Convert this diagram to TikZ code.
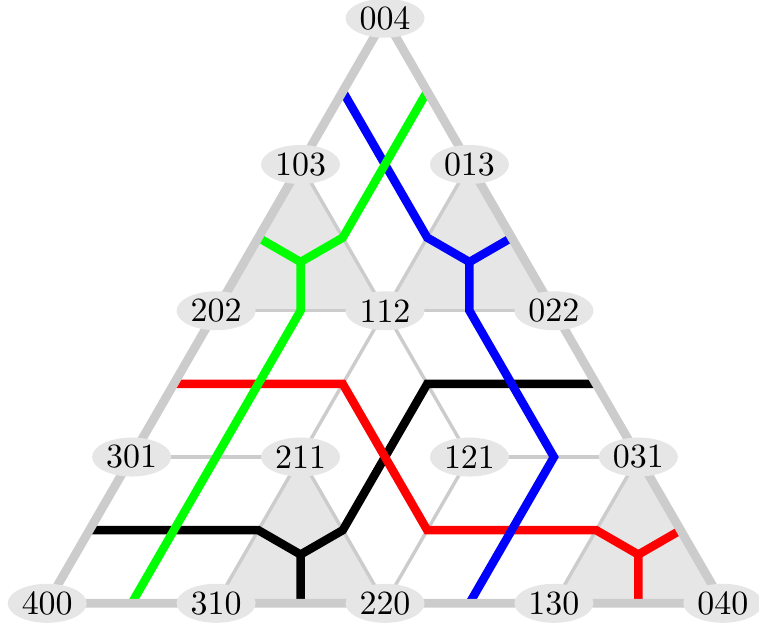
\documentclass[tikz,border=0pt]{standalone}
\usetikzlibrary{shapes.geometric}
\pgfdeclarelayer{bg}
\pgfsetlayers{bg,main}
\definecolor{gridgray}{HTML}{CCCCCC}
\definecolor{cellgray}{HTML}{E6E6E6}
\begin{document}
\begin{tikzpicture}[x=1.75cm,y=1.75cm,
  vtx/.style={ellipse, fill=cellgray, inner sep=0pt, minimum width=23.3pt, minimum height=11.5pt},
  outeredge/.style={draw=gridgray, line width=2.6pt},
  inneredge/.style={draw=gridgray, line width=1pt},
  cellfill/.style={fill=cellgray},
  trop/.style={line width=2.5pt, line join=miter}]
\useasboundingbox (-2.2795,-0.1344) rectangle (2.2143,3.5719);
% vertices
\node[vtx] (n004) at (0,3.4641) {004};
\node[vtx] (n103) at (-0.5,2.5981) {103};
\node[vtx] (n013) at (0.5,2.5981) {013};
\node[vtx] (n202) at (-1,1.7321) {202};
\node[vtx] (n112) at (0,1.7321) {112};
\node[vtx] (n022) at (1,1.7321) {022};
\node[vtx] (n301) at (-1.5,0.8660) {301};
\node[vtx] (n211) at (-0.5,0.8660) {211};
\node[vtx] (n121) at (0.5,0.8660) {121};
\node[vtx] (n031) at (1.5,0.8660) {031};
\node[vtx] (n400) at (-2,0) {400};
\node[vtx] (n310) at (-1,0) {310};
\node[vtx] (n220) at (0,0) {220};
\node[vtx] (n130) at (1,0) {130};
\node[vtx] (n040) at (2,0) {040};
% edge midpoints
\coordinate (m004x013) at (barycentric cs:n004=1,n013=1);
\coordinate (m103x112) at (barycentric cs:n103=1,n112=1);
\coordinate (m103x202) at (barycentric cs:n103=1,n202=1);
\coordinate (m202x112) at (barycentric cs:n202=1,n112=1);
\coordinate (m301x211) at (barycentric cs:n301=1,n211=1);
\coordinate (m400x310) at (barycentric cs:n400=1,n310=1);
\coordinate (m103x004) at (barycentric cs:n103=1,n004=1);
\coordinate (m013x112) at (barycentric cs:n013=1,n112=1);
\coordinate (m013x022) at (barycentric cs:n013=1,n022=1);
\coordinate (m112x022) at (barycentric cs:n112=1,n022=1);
\coordinate (m121x031) at (barycentric cs:n121=1,n031=1);
\coordinate (m220x130) at (barycentric cs:n220=1,n130=1);
\coordinate (m202x301) at (barycentric cs:n202=1,n301=1);
\coordinate (m112x211) at (barycentric cs:n112=1,n211=1);
\coordinate (m220x121) at (barycentric cs:n220=1,n121=1);
\coordinate (m031x130) at (barycentric cs:n031=1,n130=1);
\coordinate (m031x040) at (barycentric cs:n031=1,n040=1);
\coordinate (m130x040) at (barycentric cs:n130=1,n040=1);
\coordinate (m301x400) at (barycentric cs:n301=1,n400=1);
\coordinate (m211x310) at (barycentric cs:n211=1,n310=1);
\coordinate (m310x220) at (barycentric cs:n310=1,n220=1);
\coordinate (m211x220) at (barycentric cs:n211=1,n220=1);
\coordinate (m112x121) at (barycentric cs:n112=1,n121=1);
\coordinate (m022x031) at (barycentric cs:n022=1,n031=1);
% triangle centres
\coordinate (t1) at (barycentric cs:n103=1,n202=1,n112=1);
\coordinate (t2) at (barycentric cs:n013=1,n112=1,n022=1);
\coordinate (t3) at (barycentric cs:n211=1,n310=1,n220=1);
\coordinate (t4) at (barycentric cs:n031=1,n130=1,n040=1);
\begin{pgfonlayer}{bg}
  % shaded unit triangles
  \fill[cellfill] (n103.center) -- (n202.center) -- (n112.center) -- cycle;
  \fill[cellfill] (n013.center) -- (n112.center) -- (n022.center) -- cycle;
  \fill[cellfill] (n211.center) -- (n310.center) -- (n220.center) -- cycle;
  \fill[cellfill] (n031.center) -- (n130.center) -- (n040.center) -- cycle;
  % inner edges of the subdivision
  \draw[inneredge] (n013.center) -- (n112.center);
  \draw[inneredge] (n103.center) -- (n112.center);
  \draw[inneredge] (n202.center) -- (n112.center);
  \draw[inneredge] (n112.center) -- (n022.center);
  \draw[inneredge] (n112.center) -- (n211.center);
  \draw[inneredge] (n112.center) -- (n121.center);
  \draw[inneredge] (n301.center) -- (n211.center);
  \draw[inneredge] (n121.center) -- (n031.center);
  \draw[inneredge] (n211.center) -- (n310.center);
  \draw[inneredge] (n211.center) -- (n220.center);
  \draw[inneredge] (n220.center) -- (n121.center);
  \draw[inneredge] (n031.center) -- (n130.center);
  % tropical curves
  \draw[trop, black] (m301x400) -- (m211x310) -- (t3) -- (m211x220) -- (m112x121) -- (m022x031);
  \draw[trop, black] (t3) -- (m310x220);
  \draw[trop, red] (m202x301) -- (m112x211) -- (m220x121) -- (m031x130) -- (t4) -- (m130x040);
  \draw[trop, red] (t4) -- (m031x040);
  \draw[trop, blue] (m103x004) -- (m013x112) -- (t2) -- (m112x022) -- (m121x031) -- (m220x130);
  \draw[trop, blue] (t2) -- (m013x022);
  \draw[trop, green] (m004x013) -- (m103x112) -- (t1) -- (m202x112) -- (m301x211) -- (m400x310);
  \draw[trop, green] (t1) -- (m103x202);
  % outer triangle
  \draw[outeredge] (n004.center) -- (n400.center) -- (n040.center) -- cycle;
\end{pgfonlayer}
\end{tikzpicture}
\end{document}
